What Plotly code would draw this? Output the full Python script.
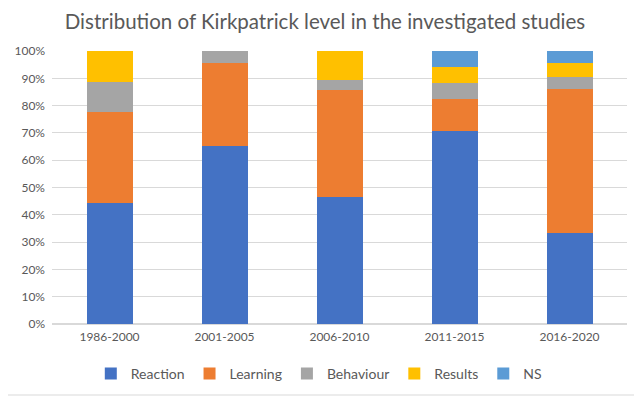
import plotly.graph_objects as go

periods = ["1986-2000", "2001-2005", "2006-2010", "2011-2015", "2016-2020"]
series_names = ["Reaction", "Learning", "Behaviour", "Results", "NS"]
reaction = [44.4, 65.2, 46.4, 70.6, 33.3]
learning = [33.3, 30.4, 39.3, 11.8, 52.6]
behaviour = [11.1, 4.4, 3.6, 5.9, 4.7]
results = [11.2, 0.0, 10.7, 5.8, 4.9]
ns = [0.0, 0.0, 0.0, 5.9, 4.5]
colors = ["#4472C4", "#ED7D31", "#A5A5A5", "#FFC000", "#5B9BD5"]
y_ticks = [0, 10, 20, 30, 40, 50, 60, 70, 80, 90, 100]
y_labels = [f"{v}%" for v in y_ticks]

FONT = "Lato, 'Open Sans', sans-serif"
W, H = 634, 388  # page has an 8px body margin

fig = go.Figure()
for name, vals, col in zip(series_names, [reaction, learning, behaviour, results, ns], colors):
    fig.add_trace(go.Bar(name=name, x=periods, y=vals, marker=dict(color=col, line=dict(width=0))))

fig.update_layout(
    barmode="stack",
    bargap=0.6,
    width=W, height=H,
    margin=dict(l=44, r=15, t=43, b=72, autoexpand=False),
    paper_bgcolor="white", plot_bgcolor="white",
    font=dict(family=FONT, color="#595959"),
    title=dict(text="Distribution of Kirkpatrick level in the investigated studies",
               x=0.5, xanchor="center", xref="container", y=1 - 14 / H, yanchor="middle",
               font=dict(size=20.5, color="#595959", family=FONT)),
    xaxis=dict(showgrid=False, showline=False, ticks="", tickfont=dict(size=12, color="#595959"),
               fixedrange=True, ticklabelstandoff=4),
    yaxis=dict(range=[0, 100], tickvals=y_ticks, ticktext=y_labels, showgrid=True,
               gridcolor="#D9D9D9", gridwidth=1, zeroline=True, zerolinecolor="#D9D9D9",
               tickfont=dict(size=12, color="#595959"), ticks="", ticklabelstandoff=6,
               fixedrange=True),
    legend=dict(orientation="h", x=0.464, xanchor="center", yref="container",
                y=1 - 366 / H, yanchor="middle",
                font=dict(size=14, color="#595959"), itemwidth=30, traceorder="normal",
                tracegroupgap=0),
    shapes=[
        dict(type="line", xref="paper", yref="paper",
             x0=(W - 1 - 44) / 575, x1=(W - 1 - 44) / 575,
             y0=(-72 + 1) / 273, y1=(H - 72) / 273,
             line=dict(color="#D9D9D9", width=1), layer="below"),
        dict(type="line", xref="paper", yref="paper",
             x0=-44 / 575, x1=(W - 1 - 44) / 575,
             y0=(-72 + 1) / 273, y1=(-72 + 1) / 273,
             line=dict(color="#D9D9D9", width=1), layer="below"),
    ],
)

fig.write_html("out.html")
